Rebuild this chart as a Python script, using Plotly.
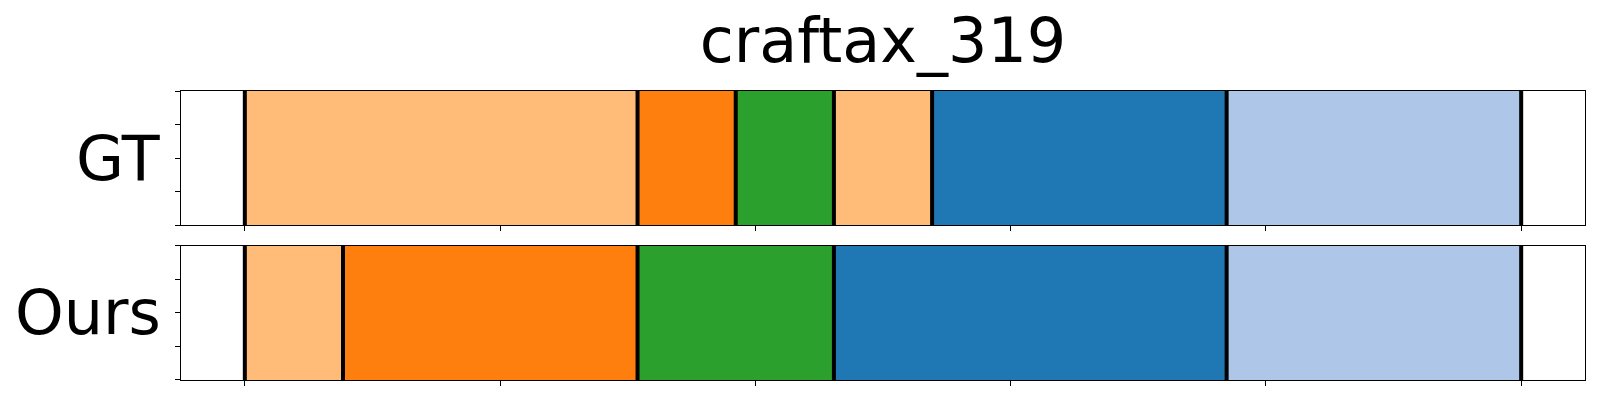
import plotly.graph_objects as go
from plotly.subplots import make_subplots

title_text = "craftax_319"
n_frames = 13
row_labels = ["GT", "Ours"]

# segment boundaries (frame indices) and class per segment
gt_bounds = [0, 4, 5, 6, 7, 10, 13]
gt_classes = [1, 0, 2, 1, 3, 4]
ours_bounds = [0, 1, 4, 6, 10, 13]
ours_classes = [1, 0, 2, 3, 4]

class_colors = {0: "#ff7f0e", 1: "#ffbb78", 2: "#2ca02c", 3: "#1f77b4", 4: "#aec7e8"}

fig = make_subplots(rows=2, cols=1, shared_xaxes=False, vertical_spacing=0.0704)

def add_row(row, bounds, classes):
    for i, c in enumerate(classes):
        s = bounds[i] / n_frames
        e = bounds[i + 1] / n_frames
        fig.add_trace(go.Bar(orientation="h", y=[0.5], x=[e - s], base=[s], width=1,
                             marker=dict(color=class_colors[c], line=dict(width=0)),
                             showlegend=False, hoverinfo="skip"), row=row, col=1)
    for b in bounds:
        xb = b / n_frames
        fig.add_trace(go.Scatter(x=[xb, xb], y=[0, 1], mode="lines",
                                 line=dict(color="black", width=4),
                                 showlegend=False, hoverinfo="skip"), row=row, col=1)

add_row(1, gt_bounds, gt_classes)
add_row(2, ours_bounds, ours_classes)

H = 400
off = 8  # page body margin
top, bottom = 90.7 - off, 19.7 + off
plot_h = H - top - bottom
ah = 134.6
fig.update_layout(
    width=1600, height=400,
    margin=dict(l=181.3 - off, r=14.7 + off, t=top, b=bottom),
    plot_bgcolor="white", paper_bgcolor="white",
    barmode="overlay",
    font=dict(family="DejaVu Sans", color="black"),
    title=dict(text=title_text, x=0.5, xanchor="center", xref="paper",
               y=1 - 32 / H, yanchor="middle", yref="container",
               font=dict(size=62, family="DejaVu Sans", color="black")),
    yaxis=dict(domain=[1 - ah / plot_h, 1]),
    yaxis2=dict(domain=[0, ah / plot_h]),
)
axis_common = dict(showline=True, mirror=True, linecolor="black", linewidth=1.2,
                   ticks="outside", ticklen=5, tickwidth=1, tickcolor="black",
                   showticklabels=False, showgrid=False, zeroline=False)
for r in (1, 2):
    fig.update_xaxes(range=[-0.05, 1.05], tickmode="array",
                     tickvals=[0, 0.2, 0.4, 0.6, 0.8, 1.0], row=r, col=1, **axis_common)
    fig.update_yaxes(range=[0, 1], tickmode="array",
                     tickvals=[0, 0.25, 0.5, 0.75, 1.0], row=r, col=1, **axis_common)

centers = [1 - ah / plot_h / 2, ah / plot_h / 2]
for lab, yc in zip(row_labels, centers):
    fig.add_annotation(text=lab, xref="paper", yref="paper", x=0, y=yc,
                       xanchor="right", yanchor="middle", xshift=-18, showarrow=False,
                       font=dict(size=62, family="DejaVu Sans", color="black"))

fig.write_html("out.html")
